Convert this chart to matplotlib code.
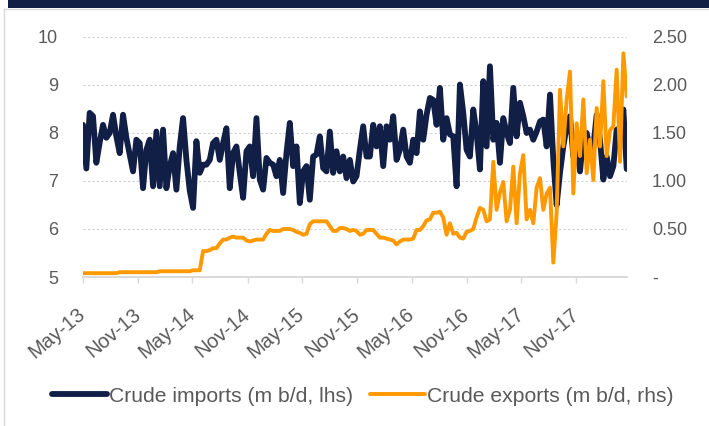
import matplotlib
matplotlib.use("Agg")
import matplotlib.pyplot as plt
import matplotlib.patches as patches
from matplotlib.transforms import ScaledTranslation
import pandas as pd

plt.rcParams['font.family'] = ['Liberation Sans', 'DejaVu Sans']

# crude imports, m b/d (lhs)
imports = [
    8.17, 7.26, 8.42, 8.35, 7.38, 7.8, 8.17, 7.9, 8.0, 8.38,
    7.93, 7.58, 8.38, 7.9, 7.55, 7.2, 7.86, 7.79, 6.85, 7.65,
    7.86, 6.89, 8.03, 6.89, 8.07, 6.85, 7.31, 7.58, 6.82, 7.72,
    8.31, 7.44, 6.8, 6.44, 7.83, 7.17, 7.34, 7.34, 7.44, 7.79,
    7.86, 7.44, 7.79, 8.1, 6.85, 7.58, 7.72, 7.17, 6.65, 7.62,
    7.72, 7.1, 8.31, 7.03, 6.82, 7.48, 7.38, 7.34, 7.1, 7.44,
    6.75, 7.58, 8.21, 7.31, 7.72, 6.54, 7.2, 7.31, 6.61, 7.51,
    7.55, 7.93, 7.27, 7.2, 8.03, 7.17, 7.62, 7.2, 7.51, 7.06,
    7.44,
    6.99, 7.1, 7.65, 8.14, 7.51, 7.51, 8.17, 7.72, 8.14, 7.31,
    8.14, 7.86, 8.35, 7.44, 7.65, 8.07, 7.51, 7.38, 7.86, 7.58,
    8.45, 7.86, 8.38, 8.73, 8.69, 8.17, 8.94, 7.86, 8.31, 7.97,
    7.93, 6.89, 9.01, 8.42, 7.65, 7.51, 8.49, 8.0, 7.24, 9.08,
    7.72, 9.39, 7.86, 8.21, 7.38, 8.31, 8.0, 7.79, 8.94, 7.93,
    8.63, 8.35, 8.0, 8.07, 7.86, 8.03, 8.24, 8.28, 7.72, 8.8,
    7.44, 6.5, 7.17, 7.72, 8.14, 8.35, 7.51, 7.86, 7.2, 7.93,
    8.0, 7.65, 7.72, 8.38, 7.86, 7.03, 7.51, 7.1, 7.31, 8.07,
    8.1, 8.49, 7.25,
]

# crude exports, m b/d (rhs)
exports = [
    0.04, 0.04, 0.04, 0.04, 0.04, 0.04, 0.04, 0.04, 0.04, 0.04,
    0.04, 0.05, 0.05, 0.05, 0.05, 0.05, 0.05, 0.05, 0.05, 0.05,
    0.05, 0.05, 0.05, 0.06, 0.06, 0.06, 0.06, 0.06, 0.06, 0.06,
    0.06, 0.06, 0.06, 0.07, 0.07, 0.07,
    0.27, 0.27, 0.28, 0.30, 0.30, 0.35, 0.39, 0.39, 0.41, 0.42,
    0.41, 0.41, 0.41, 0.38, 0.37, 0.38, 0.39, 0.39, 0.39, 0.45,
    0.49, 0.48, 0.48, 0.48, 0.5, 0.5, 0.5, 0.49, 0.47, 0.46,
    0.44, 0.45, 0.55, 0.58, 0.58, 0.58, 0.58, 0.58, 0.53, 0.48,
    0.48, 0.51, 0.51, 0.5, 0.48,
    0.49, 0.48, 0.44, 0.45, 0.49, 0.49, 0.49, 0.45, 0.41, 0.41,
    0.40, 0.39, 0.38, 0.34, 0.37, 0.39, 0.39, 0.39, 0.40, 0.49,
    0.49, 0.53, 0.59, 0.60, 0.67, 0.67, 0.68, 0.62, 0.44, 0.56,
    0.45, 0.46, 0.41, 0.40, 0.47, 0.48, 0.50, 0.62, 0.72, 0.70,
    0.58, 0.60, 1.20, 0.70, 0.88, 0.99, 0.58, 0.70, 1.15, 0.56,
    1.08, 1.27, 0.60, 0.70, 0.56, 0.93, 1.03, 0.70, 0.87, 0.93,
    0.15, 0.67, 1.95, 1.36, 1.85, 2.14, 0.87, 1.6, 1.26, 1.85,
    1.08, 1.43, 1.01, 1.76, 1.36, 2.04, 1.26, 1.53, 1.57, 2.16,
    1.2, 2.33, 1.88,
]

dates = pd.date_range('2013-05-01', '2018-04-18', periods=len(imports))

left_ticks = [5, 6, 7, 8, 9, 10]
right_ticks = [0, 0.5, 1.0, 1.5, 2.0, 2.5]
right_labels = ['-', '0.50', '1.00', '1.50', '2.00', '2.50']
x_ticks = pd.date_range('2013-05-01', '2017-11-01', freq='6MS')

navy = '#111e46'
orange = '#ff9900'
grey_txt = '#595959'

fig = plt.figure(figsize=(7.09, 4.26), dpi=100)

# frame and top bar
fig.add_artist(patches.Rectangle((8/709, 1-8/426), 701/709, 8/426,
                                 transform=fig.transFigure, color=navy, lw=0))
fig.add_artist(plt.Line2D([4/709, 4/709], [0, 1-9/426], transform=fig.transFigure,
                          color='#d9d9d9', lw=1))
fig.add_artist(plt.Line2D([4/709, 1], [1-9/426, 1-9/426], transform=fig.transFigure,
                          color='#d9d9d9', lw=1))

ax = fig.add_axes([83/709, 1-277/426, 544/709, 240/426])
ax2 = ax.twinx()

l1, = ax.plot(dates, imports, color=navy, lw=4.2, solid_joinstyle='round',
              solid_capstyle='round', label='Crude imports (m b/d, lhs)')
l2, = ax2.plot(dates, exports, color=orange, lw=2.8, solid_joinstyle='round',
               solid_capstyle='round', label='Crude exports (m b/d, rhs)')

ax.set_ylim(5, 10)
ax.set_yticks(left_ticks)
ax2.set_ylim(0, 2.5)
ax2.set_yticks(right_ticks)
ax2.set_yticklabels(right_labels)
ax.set_xlim(pd.Timestamp('2013-05-01'), pd.Timestamp('2018-04-19'))
ax.set_xticks(x_ticks)
ax.set_xticklabels([d.strftime('%b-%y') for d in x_ticks], rotation=40,
                   ha='right', va='center', rotation_mode='anchor')
shift = ScaledTranslation(5/100, 0, fig.dpi_scale_trans)
for lab in ax.get_xticklabels():
    lab.set_transform(lab.get_transform() + shift)

ax.grid(axis='y', color='#d0d0d0', ls=(0, (2, 2)), lw=0.8)
for a in (ax, ax2):
    for s in ('top', 'left', 'right'):
        a.spines[s].set_visible(False)
    a.spines['bottom'].set_color('#d9d9d9')
    a.spines['bottom'].set_linewidth(1.2)

ax.tick_params(axis='y', length=0, pad=18, labelsize=13, labelcolor=grey_txt)
ax2.tick_params(axis='y', length=0, pad=18, labelsize=13, labelcolor=grey_txt)
ax.tick_params(axis='x', length=4, color='#d9d9d9', width=1, labelsize=14.5,
               labelcolor=grey_txt, pad=21)

fig.legend([l1, l2], [l1.get_label(), l2.get_label()], loc='center',
           bbox_to_anchor=(363/709, 1-396/426), ncol=2, frameon=False,
           fontsize=15.2, handlelength=2.6, handletextpad=0.1, columnspacing=0.8,
           labelcolor=grey_txt)

fig.savefig('out.png', dpi=100)
